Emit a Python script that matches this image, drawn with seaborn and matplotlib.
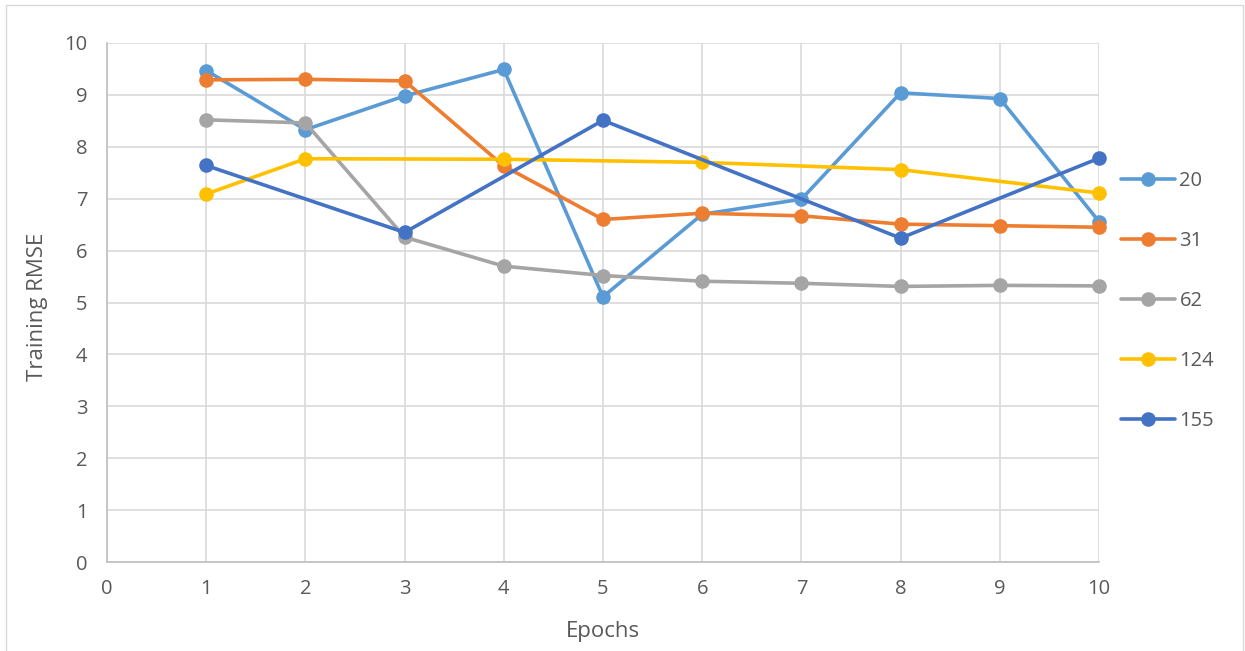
import numpy as np
import pandas as pd
import matplotlib
matplotlib.use("Agg")
import matplotlib.pyplot as plt
from matplotlib.lines import Line2D
from matplotlib.patches import Rectangle
import seaborn as sns

# ---- data ----
epochs = [1, 2, 3, 4, 5, 6, 7, 8, 9, 10]
series_names = ["20", "31", "62", "124", "155"]
rmse_20 = [9.47, 8.33, 8.98, 9.49, 5.11, 6.70, 6.99, 9.04, 8.93, 6.56]
rmse_31 = [9.29, 9.30, 9.27, 7.63, 6.60, 6.72, 6.67, 6.51, 6.48, 6.45]
rmse_62 = [8.52, 8.46, 6.26, 5.70, 5.52, 5.41, 5.37, 5.31, 5.33, 5.32]
rmse_124 = [7.09, 7.77, np.nan, 7.76, np.nan, 7.70, np.nan, 7.56, np.nan, 7.11]
rmse_155 = [7.64, np.nan, 6.35, np.nan, 8.51, np.nan, np.nan, 6.24, np.nan, 7.78]
x_ticks = [0, 1, 2, 3, 4, 5, 6, 7, 8, 9, 10]
y_ticks = [0, 1, 2, 3, 4, 5, 6, 7, 8, 9, 10]

colors = {"20": "#5B9BD5", "31": "#ED7D31", "62": "#A5A5A5",
          "124": "#FFC000", "155": "#4472C4"}

all_vals = [rmse_20, rmse_31, rmse_62, rmse_124, rmse_155]
rows = []
for name, vals in zip(series_names, all_vals):
    for e, v in zip(epochs, vals):
        rows.append({"Epochs": e, "RMSE": v, "series": name})
df = pd.DataFrame(rows).dropna()

sns.set_theme(style="white")
plt.rcParams["font.family"] = ["Open Sans", "DejaVu Sans"]
text_color = "#595959"
tick_fs = 14.5
title_fs = 16

fig = plt.figure(figsize=(12.45, 6.51), dpi=100)
ax = fig.add_axes([107 / 1245, 89 / 651, 992 / 1245, 519 / 651])

sns.lineplot(data=df, x="Epochs", y="RMSE", hue="series", hue_order=series_names,
             palette=colors, marker="o", markersize=10.5, markeredgewidth=0,
             linewidth=2.6, legend=False, ax=ax, sort=True)

ax.set_xlim(0, 10)
ax.set_ylim(0, 10)
ax.set_xticks(x_ticks)
ax.set_yticks(y_ticks)
ax.grid(True, color="#D9D9D9", linewidth=1.2)
ax.set_axisbelow(True)
for s in ["top", "right"]:
    ax.spines[s].set_visible(False)
for s in ["left", "bottom"]:
    ax.spines[s].set_color("#BFBFBF")
    ax.spines[s].set_linewidth(1.2)
ax.tick_params(axis="both", length=0, labelsize=tick_fs, colors=text_color)
ax.tick_params(axis="y", pad=14)
ax.tick_params(axis="x", pad=12)
for lab in ax.get_xticklabels() + ax.get_yticklabels():
    lab.set_color(text_color)
ax.set_xlabel("")
ax.set_ylabel("")
for line in ax.get_lines():
    line.set_clip_on(False)

fig.text(603 / 1245, 1 - 631 / 651, "Epochs", ha="center", va="center",
         fontsize=title_fs, color=text_color)
fig.text(38 / 1245, 1 - 307 / 651, "Training RMSE", ha="center", va="center",
         rotation=90, fontsize=title_fs, color=text_color)

handles = [Line2D([0], [0], color=colors[n], linewidth=2.6, marker="o",
                  markersize=10.5, markeredgewidth=0) for n in series_names]
leg = fig.legend(handles, series_names, loc="center left",
                 bbox_to_anchor=(1121 / 1245, 1 - 301 / 651), frameon=False,
                 fontsize=tick_fs, handlelength=2.7, handletextpad=0.2,
                 labelspacing=1.98, borderpad=0, borderaxespad=0)
for t in leg.get_texts():
    t.set_color(text_color)

fig.patches.append(Rectangle((6 / 1245, -10 / 651), 1237 / 1245, 656 / 651,
                             transform=fig.transFigure, fill=False,
                             edgecolor="#D9D9D9", linewidth=1.0))

fig.savefig("out.png", dpi=100)
